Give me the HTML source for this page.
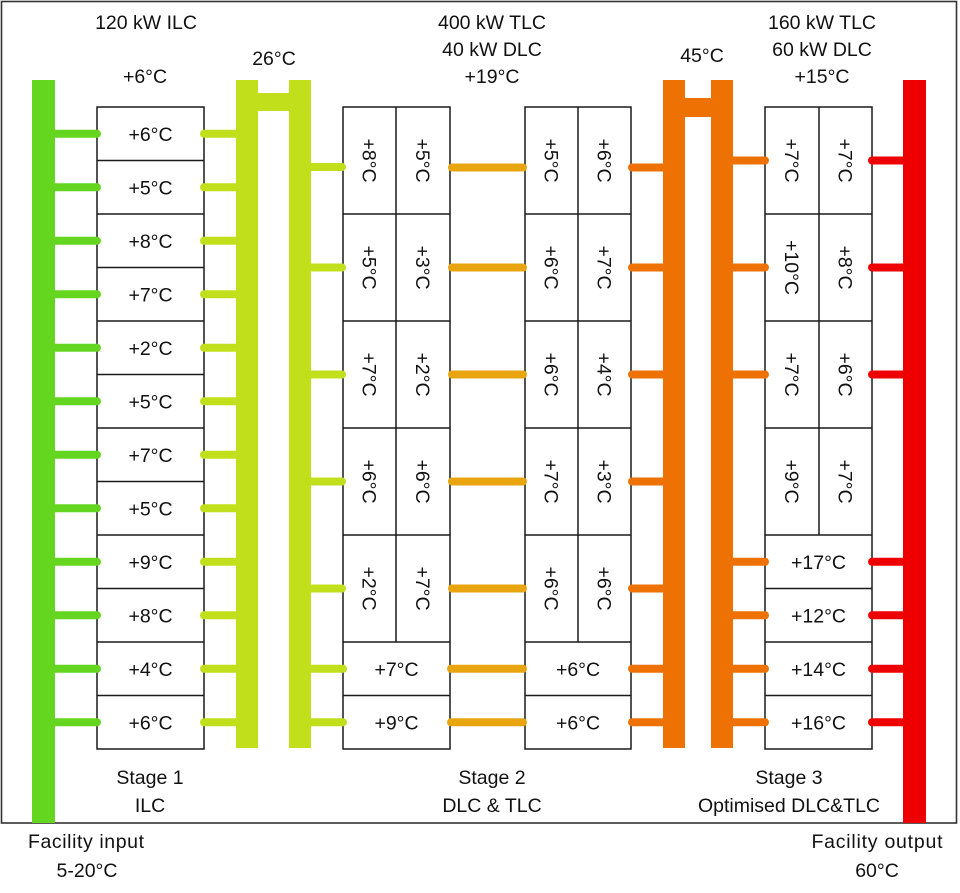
<!DOCTYPE html>
<html><head><meta charset="utf-8"><style>
html,body{margin:0;padding:0;background:#fff;}
svg{display:block;}
text{font-family:"Liberation Sans",sans-serif;font-size:19.5px;fill:#111;}
text.l{font-size:19.5px;}
</style></head><body>
<svg width="960" height="893" viewBox="0 0 960 893" xmlns="http://www.w3.org/2000/svg">
<rect x="0" y="0" width="960" height="893" fill="#fff"/>
<rect x="1.5" y="1.5" width="955" height="821.5" fill="none" stroke="#333" stroke-width="1.6"/>

<g fill="#fff" stroke="#1a1a1a" stroke-width="1.5">
  <rect x="97" y="107" width="107" height="642"/>
  <rect x="343" y="107" width="107" height="642"/>
  <rect x="525" y="107" width="106" height="642"/>
  <rect x="765" y="107" width="107" height="642"/>
</g>
<g stroke="#1a1a1a" stroke-width="1.5">
  <line x1="97" x2="204" y1="160.5" y2="160.5"/>
  <line x1="97" x2="204" y1="214" y2="214"/>
  <line x1="97" x2="204" y1="267.5" y2="267.5"/>
  <line x1="97" x2="204" y1="321" y2="321"/>
  <line x1="97" x2="204" y1="374.5" y2="374.5"/>
  <line x1="97" x2="204" y1="428" y2="428"/>
  <line x1="97" x2="204" y1="481.5" y2="481.5"/>
  <line x1="97" x2="204" y1="535" y2="535"/>
  <line x1="97" x2="204" y1="588.5" y2="588.5"/>
  <line x1="97" x2="204" y1="642" y2="642"/>
  <line x1="97" x2="204" y1="695.5" y2="695.5"/>
  <line x1="343" x2="450" y1="214" y2="214"/>
  <line x1="343" x2="450" y1="321" y2="321"/>
  <line x1="343" x2="450" y1="428" y2="428"/>
  <line x1="343" x2="450" y1="535" y2="535"/>
  <line x1="343" x2="450" y1="642" y2="642"/>
  <line x1="343" x2="450" y1="695.5" y2="695.5"/>
  <line x1="396" x2="396" y1="107" y2="642"/>
  <line x1="525" x2="631" y1="214" y2="214"/>
  <line x1="525" x2="631" y1="321" y2="321"/>
  <line x1="525" x2="631" y1="428" y2="428"/>
  <line x1="525" x2="631" y1="535" y2="535"/>
  <line x1="525" x2="631" y1="642" y2="642"/>
  <line x1="525" x2="631" y1="695.5" y2="695.5"/>
  <line x1="578" x2="578" y1="107" y2="642"/>
  <line x1="765" x2="872" y1="214" y2="214"/>
  <line x1="765" x2="872" y1="321" y2="321"/>
  <line x1="765" x2="872" y1="428" y2="428"/>
  <line x1="765" x2="872" y1="535" y2="535"/>
  <line x1="765" x2="872" y1="588.5" y2="588.5"/>
  <line x1="765" x2="872" y1="642" y2="642"/>
  <line x1="765" x2="872" y1="695.5" y2="695.5"/>
  <line x1="819" x2="819" y1="107" y2="535"/>
</g>

<rect x="32" y="80" width="23" height="743" fill="#64D620"/>
<rect x="236" y="80" width="22" height="668" fill="#C1E01B"/>
<rect x="289" y="80" width="22" height="668" fill="#C1E01B"/>
<rect x="257" y="93" width="33" height="18" fill="#C1E01B"/>
<rect x="663" y="80" width="22" height="668" fill="#EE7104"/>
<rect x="711" y="80" width="22" height="668" fill="#EE7104"/>
<rect x="684" y="98" width="28" height="19" fill="#EE7104"/>
<rect x="903" y="80" width="23" height="743" fill="#EE0000"/>

<g stroke-width="8" stroke-linecap="round">
  <g stroke="#64D620">
    <line x1="52" x2="97" y1="133.75" y2="133.75"/>
    <line x1="52" x2="97" y1="187.25" y2="187.25"/>
    <line x1="52" x2="97" y1="240.75" y2="240.75"/>
    <line x1="52" x2="97" y1="294.25" y2="294.25"/>
    <line x1="52" x2="97" y1="347.75" y2="347.75"/>
    <line x1="52" x2="97" y1="401.25" y2="401.25"/>
    <line x1="52" x2="97" y1="454.75" y2="454.75"/>
    <line x1="52" x2="97" y1="508.25" y2="508.25"/>
    <line x1="52" x2="97" y1="561.75" y2="561.75"/>
    <line x1="52" x2="97" y1="615.25" y2="615.25"/>
    <line x1="52" x2="97" y1="668.75" y2="668.75"/>
    <line x1="52" x2="97" y1="722.25" y2="722.25"/>
  </g>
  <g stroke="#C1E01B">
    <line x1="204" x2="240" y1="133.75" y2="133.75"/>
    <line x1="204" x2="240" y1="187.25" y2="187.25"/>
    <line x1="204" x2="240" y1="240.75" y2="240.75"/>
    <line x1="204" x2="240" y1="294.25" y2="294.25"/>
    <line x1="204" x2="240" y1="347.75" y2="347.75"/>
    <line x1="204" x2="240" y1="401.25" y2="401.25"/>
    <line x1="204" x2="240" y1="454.75" y2="454.75"/>
    <line x1="204" x2="240" y1="508.25" y2="508.25"/>
    <line x1="204" x2="240" y1="561.75" y2="561.75"/>
    <line x1="204" x2="240" y1="615.25" y2="615.25"/>
    <line x1="204" x2="240" y1="668.75" y2="668.75"/>
    <line x1="204" x2="240" y1="722.25" y2="722.25"/>
    <line x1="306" x2="342" y1="167" y2="167"/>
    <line x1="306" x2="342" y1="267.5" y2="267.5"/>
    <line x1="306" x2="342" y1="374.5" y2="374.5"/>
    <line x1="306" x2="342" y1="481.5" y2="481.5"/>
    <line x1="306" x2="342" y1="588.5" y2="588.5"/>
    <line x1="306" x2="343" y1="668.75" y2="668.75"/>
    <line x1="306" x2="343" y1="722.25" y2="722.25"/>
  </g>
  <g stroke="#E9A50F">
    <line x1="452" x2="523" y1="167.5" y2="167.5"/>
    <line x1="452" x2="523" y1="267.5" y2="267.5"/>
    <line x1="452" x2="523" y1="374.5" y2="374.5"/>
    <line x1="452" x2="523" y1="481.5" y2="481.5"/>
    <line x1="452" x2="523" y1="588.5" y2="588.5"/>
    <line x1="451" x2="523" y1="668.75" y2="668.75"/>
    <line x1="451" x2="523" y1="722.25" y2="722.25"/>
  </g>
  <g stroke="#EE7104">
    <line x1="632" x2="668" y1="167.5" y2="167.5"/>
    <line x1="632" x2="668" y1="267.5" y2="267.5"/>
    <line x1="632" x2="668" y1="374.5" y2="374.5"/>
    <line x1="632" x2="668" y1="481.5" y2="481.5"/>
    <line x1="632" x2="668" y1="588.5" y2="588.5"/>
    <line x1="632" x2="668" y1="668.75" y2="668.75"/>
    <line x1="632" x2="668" y1="722.25" y2="722.25"/>
    <line x1="728" x2="765" y1="160.5" y2="160.5"/>
    <line x1="728" x2="765" y1="267.5" y2="267.5"/>
    <line x1="728" x2="765" y1="374.5" y2="374.5"/>
    <line x1="728" x2="765" y1="561.75" y2="561.75"/>
    <line x1="728" x2="765" y1="615.25" y2="615.25"/>
    <line x1="728" x2="765" y1="668.75" y2="668.75"/>
    <line x1="728" x2="765" y1="722.25" y2="722.25"/>
  </g>
  <g stroke="#EE0000">
    <line x1="872" x2="908" y1="160.5" y2="160.5"/>
    <line x1="872" x2="908" y1="267.5" y2="267.5"/>
    <line x1="872" x2="908" y1="374.5" y2="374.5"/>
    <line x1="872" x2="908" y1="561.75" y2="561.75"/>
    <line x1="872" x2="908" y1="615.25" y2="615.25"/>
    <line x1="872" x2="908" y1="668.75" y2="668.75"/>
    <line x1="872" x2="908" y1="722.25" y2="722.25"/>
  </g>
</g>

<g text-anchor="middle">
  <text class="l" x="146" y="29">120 kW ILC</text>
  <text class="l" x="145" y="83">+6°C</text>
  <text class="l" x="274" y="65">26°C</text>
  <text class="l" x="492" y="29">400 kW TLC</text>
  <text class="l" x="492" y="56">40 kW DLC</text>
  <text class="l" x="492" y="83">+19°C</text>
  <text class="l" x="702" y="62">45°C</text>
  <text class="l" x="822" y="29">160 kW TLC</text>
  <text class="l" x="822" y="56">60 kW DLC</text>
  <text class="l" x="822" y="83">+15°C</text>

  <text x="150.5" y="140.75">+6°C</text>
  <text x="150.5" y="194.25">+5°C</text>
  <text x="150.5" y="247.75">+8°C</text>
  <text x="150.5" y="301.25">+7°C</text>
  <text x="150.5" y="354.75">+2°C</text>
  <text x="150.5" y="408.25">+5°C</text>
  <text x="150.5" y="461.75">+7°C</text>
  <text x="150.5" y="515.25">+5°C</text>
  <text x="150.5" y="568.75">+9°C</text>
  <text x="150.5" y="622.25">+8°C</text>
  <text x="150.5" y="675.75">+4°C</text>
  <text x="150.5" y="729.25">+6°C</text>

  <text x="396.5" y="675.75">+7°C</text>
  <text x="396.5" y="729.25">+9°C</text>
  <text x="578" y="675.75">+6°C</text>
  <text x="578" y="729.25">+6°C</text>

  <text x="818.5" y="568.75">+17°C</text>
  <text x="818.5" y="622.25">+12°C</text>
  <text x="818.5" y="675.75">+14°C</text>
  <text x="818.5" y="729.25">+16°C</text>

  <text transform="translate(369.5,160.5) rotate(90)" x="0" y="7">+8°C</text>
  <text transform="translate(423,160.5) rotate(90)" x="0" y="7">+5°C</text>
  <text transform="translate(369.5,267.5) rotate(90)" x="0" y="7">+5°C</text>
  <text transform="translate(423,267.5) rotate(90)" x="0" y="7">+3°C</text>
  <text transform="translate(369.5,374.5) rotate(90)" x="0" y="7">+7°C</text>
  <text transform="translate(423,374.5) rotate(90)" x="0" y="7">+2°C</text>
  <text transform="translate(369.5,481.5) rotate(90)" x="0" y="7">+6°C</text>
  <text transform="translate(423,481.5) rotate(90)" x="0" y="7">+6°C</text>
  <text transform="translate(369.5,588.5) rotate(90)" x="0" y="7">+2°C</text>
  <text transform="translate(423,588.5) rotate(90)" x="0" y="7">+7°C</text>
  <text transform="translate(551.5,160.5) rotate(90)" x="0" y="7">+5°C</text>
  <text transform="translate(604.5,160.5) rotate(90)" x="0" y="7">+6°C</text>
  <text transform="translate(551.5,267.5) rotate(90)" x="0" y="7">+6°C</text>
  <text transform="translate(604.5,267.5) rotate(90)" x="0" y="7">+7°C</text>
  <text transform="translate(551.5,374.5) rotate(90)" x="0" y="7">+6°C</text>
  <text transform="translate(604.5,374.5) rotate(90)" x="0" y="7">+4°C</text>
  <text transform="translate(551.5,481.5) rotate(90)" x="0" y="7">+7°C</text>
  <text transform="translate(604.5,481.5) rotate(90)" x="0" y="7">+3°C</text>
  <text transform="translate(551.5,588.5) rotate(90)" x="0" y="7">+6°C</text>
  <text transform="translate(604.5,588.5) rotate(90)" x="0" y="7">+6°C</text>
  <text transform="translate(792,160.5) rotate(90)" x="0" y="7">+7°C</text>
  <text transform="translate(845.5,160.5) rotate(90)" x="0" y="7">+7°C</text>
  <text transform="translate(792,267.5) rotate(90)" x="0" y="7">+10°C</text>
  <text transform="translate(845.5,267.5) rotate(90)" x="0" y="7">+8°C</text>
  <text transform="translate(792,374.5) rotate(90)" x="0" y="7">+7°C</text>
  <text transform="translate(845.5,374.5) rotate(90)" x="0" y="7">+6°C</text>
  <text transform="translate(792,481.5) rotate(90)" x="0" y="7">+9°C</text>
  <text transform="translate(845.5,481.5) rotate(90)" x="0" y="7">+7°C</text>

  <text class="l" x="150" y="784">Stage 1</text>
  <text class="l" x="150" y="812">ILC</text>
  <text class="l" x="492" y="784">Stage 2</text>
  <text class="l" x="492" y="812">DLC &amp; TLC</text>
  <text class="l" x="789" y="784">Stage 3</text>
  <text class="l" x="789" y="812">Optimised DLC&amp;TLC</text>
  <text class="l" x="86" y="848" textLength="116">Facility input</text>
  <text class="l" x="87" y="877">5-20°C</text>
  <text class="l" x="877" y="848" textLength="131">Facility output</text>
  <text class="l" x="877" y="877">60°C</text>
</g>
</svg>
</body></html>
